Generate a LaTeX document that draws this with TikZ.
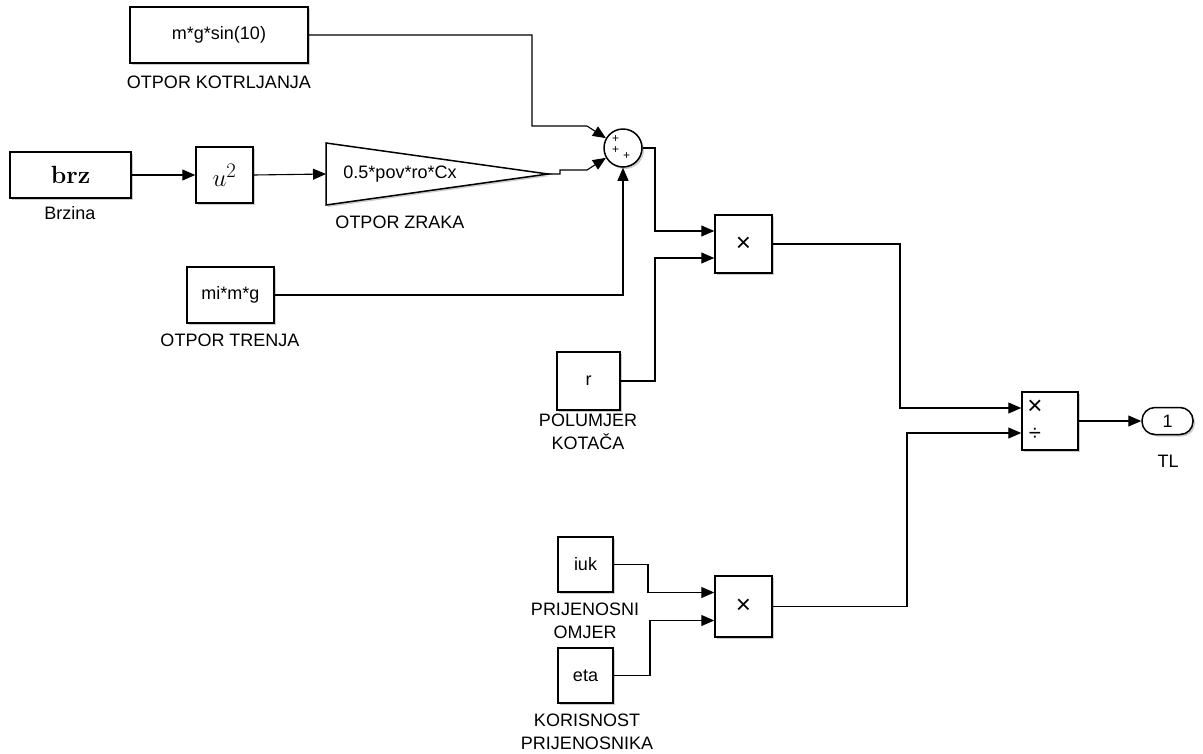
\documentclass[tikz,border=0pt]{standalone}
\usepackage[no-math]{fontspec}
\setmainfont{Liberation Sans}
\usetikzlibrary{arrows.meta,shadows}

\begin{document}
\begin{tikzpicture}[x=1pt,y=-1pt,
  blk/.style={draw=black,line width=1.5pt,fill=white,inner sep=0pt,
    font=\fontsize{18}{20}\selectfont,
    drop shadow={shadow xshift=2pt,shadow yshift=-2pt,fill=black!40,opacity=0.5}},
  sig/.style={line width=1.1pt,-{Triangle[length=13pt,width=11pt]}},
  lbl/.style={font=\fontsize{18}{23}\selectfont,align=center,inner sep=0pt},
  sgn/.style={font=\fontsize{12}{12}\selectfont,inner sep=0pt,text height=5pt,text depth=0pt}]
\useasboundingbox (0,0) rectangle (1203,753);

% sources
\node[blk,minimum width=178,minimum height=56] (kotr) at (219,35) {m*g*sin(10)};
\node[lbl] (kotrl) at (219,82) {OTPOR KOTRLJANJA};
\node[blk,minimum width=121,minimum height=46,font=\fontsize{31}{31}\selectfont] (brz) at (70.5,175) {$\mathbf{brz}$};
\node[lbl] (brzl) at (70,213) {Brzina};
\node[blk,minimum width=57,minimum height=56,font=\fontsize{29}{29}\selectfont] (usq) at (224.5,175) {$u^2$};
\node[blk,minimum width=87,minimum height=56] (mim) at (230.5,295) {mi*m*g};
\node[lbl] (miml) at (230,340) {OTPOR TRENJA};
\node[blk,minimum width=63,minimum height=58] (rad) at (588.5,381) {r};
\node[lbl] (radl) at (588,431.5) {POLUMJER\\KOTAČA};
\node[blk,minimum width=55,minimum height=55] (iuk) at (585.5,564.5) {iuk};
\node[lbl] (iukl) at (585,621) {PRIJENOSNI\\OMJER};
\node[blk,minimum width=55,minimum height=55] (eta) at (585.5,675.5) {eta};
\node[lbl] (etal) at (587,731.5) {KORISNOST\\PRIJENOSNIKA};

% gain
\coordinate (gainin) at (326,174);
\coordinate (gainout) at (548,174);
\draw[line width=1.5pt,fill=white,drop shadow={shadow xshift=2pt,shadow yshift=-2pt,fill=black!40,opacity=0.5}]
  (326,143) -- (gainout) -- (326,205) -- cycle;
\node[lbl] (gaint) at (400,174) {0.5*pov*ro*Cx};
\node[lbl] (gainl) at (400,222) {OTPOR ZRAKA};

% sum
\node[blk,circle,minimum size=38] (sum) at (623,148) {};
\node[sgn] (s1) at (615.5,139.5) {+};
\node[sgn] (s2) at (615.5,151) {+};
\node[sgn] (s3) at (626.5,157) {+};

% products
\node[blk,minimum width=57,minimum height=58,font=\fontsize{26}{26}\selectfont] (prod1) at (743.5,244) {×};
\node[blk,minimum width=57,minimum height=61,font=\fontsize{26}{26}\selectfont] (prod2) at (743.5,606.5) {×};
\node[blk,minimum width=56,minimum height=58] (divb) at (1050,421) {};
\node[font=\fontsize{26}{26}\selectfont,inner sep=0pt] (dmul) at (1035,407) {×};
\node[font=\fontsize{22}{22}\selectfont,inner sep=0pt] (ddiv) at (1035,434) {÷};

% output
\node[blk,rounded corners=13,minimum width=51,minimum height=27] (out) at (1167.5,421) {1};
\node[lbl] (outl) at (1168,461) {TL};

% signals
\draw[sig] (kotr.east) -| (532,126) -- (587,126) -- (sum.150);
\draw[sig] (brz.east) -- (usq.west);
\draw[sig] (usq.east) -- (gainin);
\draw[sig] (gainout) -- ++(12,0) -- ++(0,-4) -- (587,170) -- (sum.210);
\draw[sig] (mim.east) -| (sum.south);
\draw[sig] (sum.east) -- (655,148) |- ([yshift=13pt]prod1.west);
\draw[sig] (rad.east) -- (655,381) |- ([yshift=-14pt]prod1.west);
\draw[sig] (prod1.east) -- (900,244) |- ([yshift=13pt]divb.west);
\draw[sig] (prod2.east) -- (907,606.5) |- ([yshift=-12pt]divb.west);
\draw[sig] (divb.east) -- (out.west);
\draw[sig] (iuk.east) -- (648,564.5) |- ([yshift=14pt]prod2.west);
\draw[sig] (eta.east) -- (650,675.5) |- ([yshift=-14pt]prod2.west);
\end{tikzpicture}
\end{document}
